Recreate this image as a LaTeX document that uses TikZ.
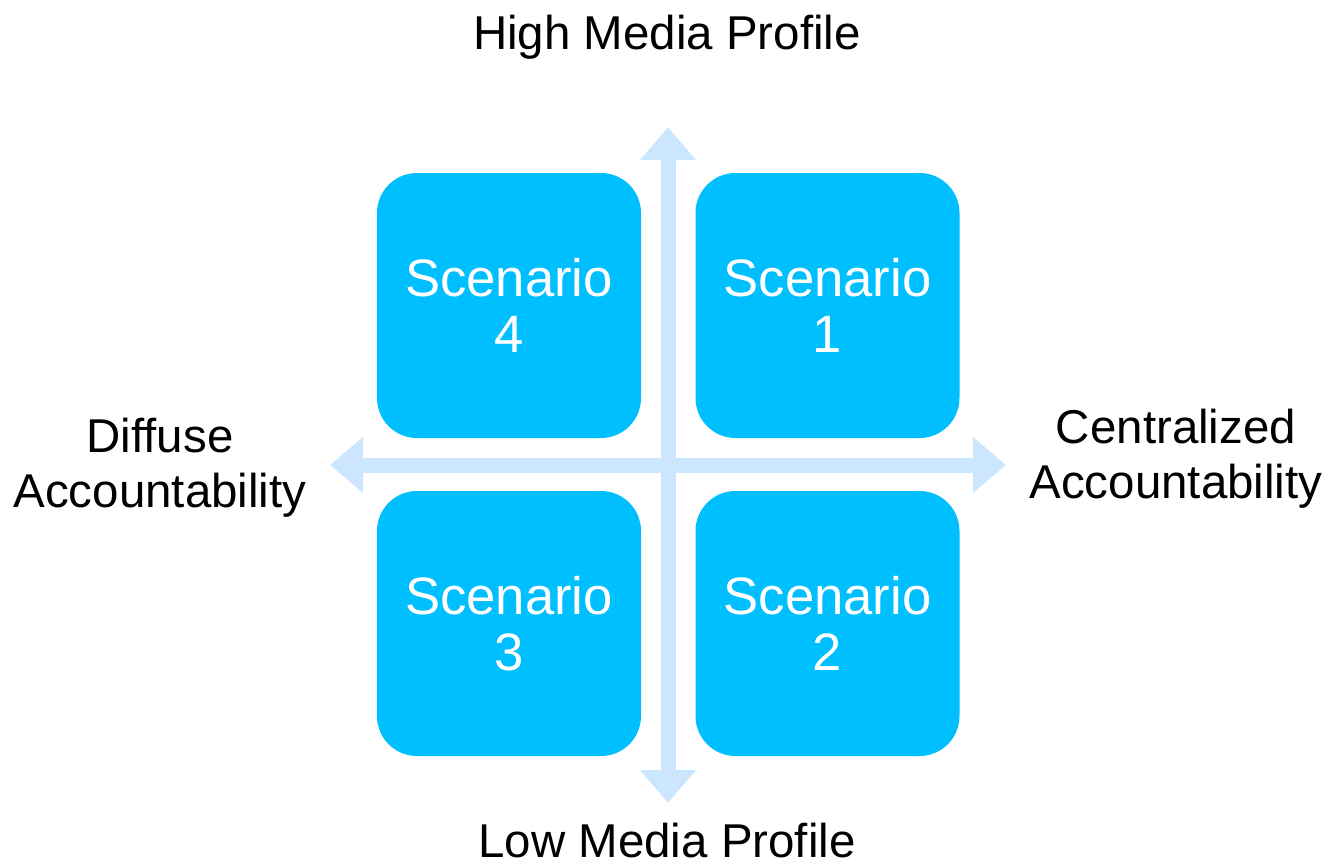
\documentclass[tikz,border=0pt]{standalone}
\usepackage{fontspec}
\setmainfont{Liberation Sans}
\usetikzlibrary{arrows.meta}
\definecolor{boxblue}{RGB}{0,191,255}
\definecolor{axisblue}{RGB}{204,230,255}
\tikzset{
  px/.style={x=0.75pt,y=-0.75pt},
  scen/.style={fill=boxblue,draw=none,rounded corners=30pt,minimum width=198pt,minimum height=198.75pt,inner sep=0pt,
    text=white,align=center,font=\fontsize{39.5}{41.5}\selectfont},
  lab/.style={text=black,align=center,inner sep=0pt,font=\fontsize{35.6}{41.5}\selectfont},
  axis/.style={draw=axisblue,line width=11.25pt,
    {Triangle[width=40.5pt,length=24.75pt]}-{Triangle[width=40.5pt,length=24.75pt]}},
}
\begin{document}
\begin{tikzpicture}[px]
\useasboundingbox (0,0) rectangle (1329,865);
\coordinate (vt) at (668,127);
\coordinate (vb) at (668,803);
\coordinate (hl) at (330,465);
\coordinate (hr) at (1006,465);
\draw[axis,fill=axisblue] (vb) -- (vt);
\draw[axis,fill=axisblue] (hl) -- (hr);
\node[scen] (s4) at (509,305.5) {Scenario\\4};
\node[scen] (s1) at (827.5,305.5) {Scenario\\1};
\node[scen] (s3) at (509,623.5) {Scenario\\3};
\node[scen] (s2) at (827.5,623.5) {Scenario\\2};
\node[lab,anchor=base] (hi) at (667,49) {High Media Profile};
\node[lab,anchor=base] (lo) at (667,857) {Low Media Profile};
\node[lab] (dif) at (160,468) {Diffuse\\Accountability};
\node[lab] (cen) at (1176,459) {Centralized\\Accountability};
\end{tikzpicture}
\end{document}
